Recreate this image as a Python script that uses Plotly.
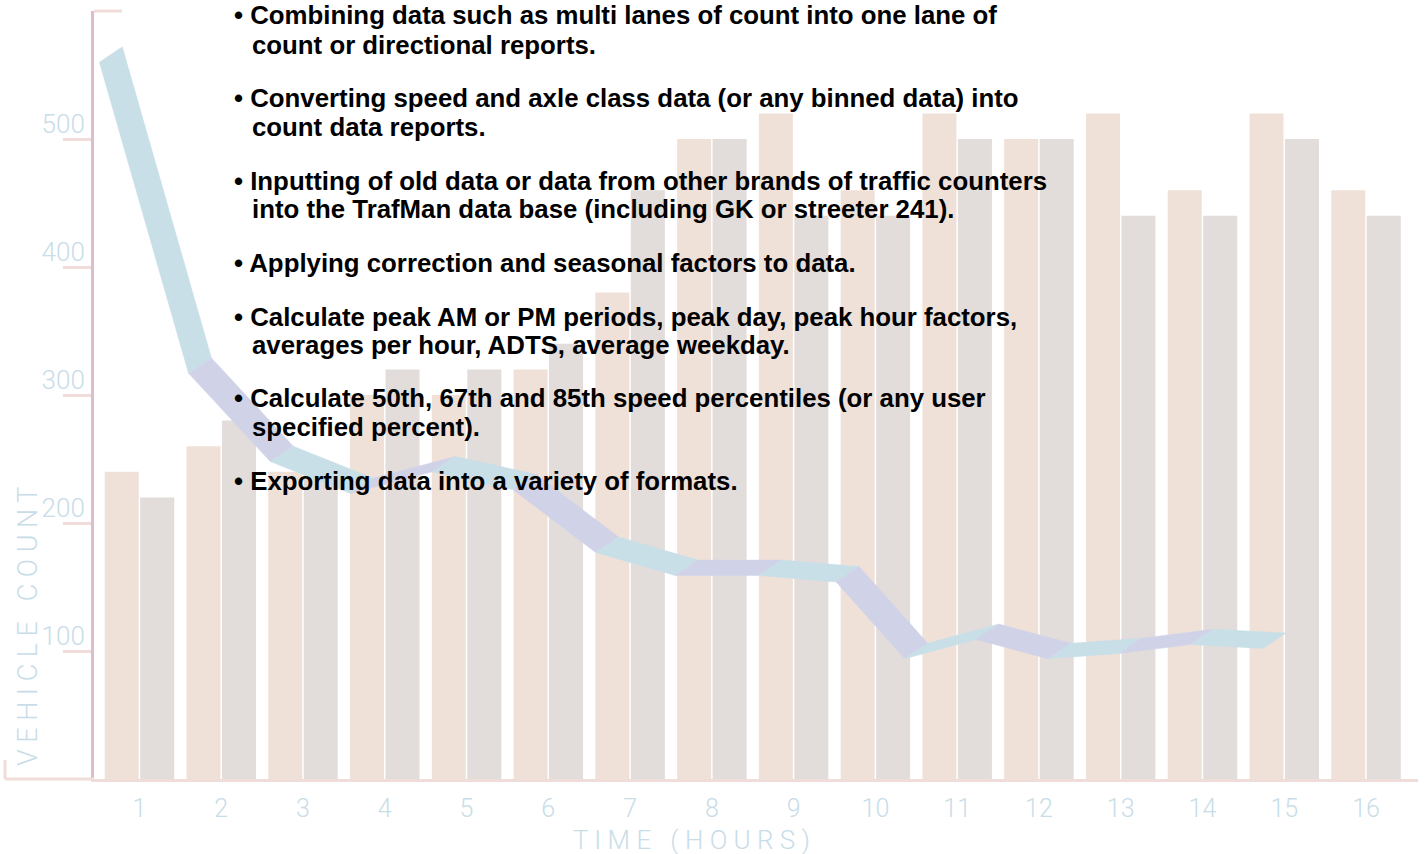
import plotly.graph_objects as go

# ---------------- data ----------------
hours = list(range(1, 17))
hour_labels = [str(h) for h in hours]
series_a = [240, 260, 240, 300, 300, 320, 380, 500, 520, 460, 520, 500, 520, 460, 520, 460]
series_b = [220, 280, 240, 320, 320, 340, 460, 500, 440, 440, 500, 500, 440, 440, 500, 440]

ribbon_time = [0.51, 1.60, 2.60, 3.58, 4.58, 5.57, 6.58, 7.55, 8.57, 9.52,
               10.36, 11.23, 12.11, 12.98, 13.85, 14.74]
ribbon_count = [560, 317, 248, 223, 240, 226, 177, 159, 159, 154,
                94, 109, 94, 98, 105, 102]

y_ticks = [100, 200, 300, 400, 500]
y_tick_labels = ["100", "200", "300", "400", "500"]

bullet_lines = [
    ("• Combining data such as multi lanes of count into one lane of", False),
    ("count or directional reports.", True),
    ("• Converting speed and axle class data (or any binned data) into", False),
    ("count data reports.", True),
    ("• Inputting of old data or data from other brands of traffic counters", False),
    ("into the TrafMan data base (including GK or streeter 241).", True),
    ("• Applying correction and seasonal factors to data.", False),
    ("• Calculate peak AM or PM periods, peak day, peak hour factors,", False),
    ("averages per hour, ADTS, average weekday.", True),
    ("• Calculate 50th, 67th and 85th speed percentiles (or any user", False),
    ("specified percent).", True),
    ("• Exporting data into a variety of formats.", False),
]
bullet_rows = [15, 45, 98, 127, 181, 209, 263, 317, 345, 398, 427, 481]

# ---------------- style ----------------
W, H = 1426, 854
ML, MR, MT, MB = 94, 8, 11, 75
PW, PH = W - ML - MR, H - MT - MB
PEACH = "#efe1d8"
GREY = "#e2dcda"
RIB_COLORS = ["#c8dfe8", "#d0d2e8"]
AXIS_BLUE = "#c8dde8"
YLINE = "#e0bcc8"
XLINE = "#f0dcd8"
DEPTH_X = 0.28
DEPTH_Y = 12

fig = go.Figure()
fig.add_trace(go.Bar(x=hours, y=series_a, marker=dict(color=PEACH, line_width=0),
                     showlegend=False, hoverinfo="skip"))
fig.add_trace(go.Bar(x=hours, y=series_b, marker=dict(color=GREY, line_width=0),
                     showlegend=False, hoverinfo="skip"))

for i in range(len(ribbon_time) - 1):
    x0, x1 = ribbon_time[i], ribbon_time[i + 1]
    y0, y1 = ribbon_count[i], ribbon_count[i + 1]
    fig.add_trace(go.Scatter(
        x=[x0, x1, x1 + DEPTH_X, x0 + DEPTH_X, x0],
        y=[y0, y1, y1 + DEPTH_Y, y0 + DEPTH_Y, y0],
        mode="lines", line=dict(width=0.5, color=RIB_COLORS[i % 2]),
        fill="toself", fillcolor=RIB_COLORS[i % 2],
        showlegend=False, hoverinfo="skip"))

def px_x(p):
    return (p - ML) / PW

def px_y(p):
    return (MT + PH - p) / PH

annotations = []
for (txt, cont), row in zip(bullet_lines, bullet_rows):
    annotations.append(dict(
        text="<b>" + txt + "</b>", xref="paper", yref="paper",
        x=px_x(250 if cont else 232), y=px_y(row), xanchor="left", yanchor="middle",
        showarrow=False, font=dict(family="Liberation Sans, Arial", size=25.8, color="black")))

annotations.append(dict(
    text="V E H I C L E   C O U N T", xref="paper", yref="paper",
    x=px_x(28), y=px_y(627), xanchor="center", yanchor="middle", textangle=-90,
    showarrow=False, font=dict(family="Roboto", size=27, color=AXIS_BLUE, weight=300)))
annotations.append(dict(
    text="T I M E   ( H O U R S )", xref="paper", yref="paper",
    x=px_x(691), y=px_y(840), xanchor="center", yanchor="middle",
    showarrow=False, font=dict(family="Roboto", size=26, color=AXIS_BLUE, weight=300)))

shapes = [
    # x axis extension with bracket tick
    dict(type="line", xref="paper", yref="paper", x0=px_x(5), x1=0, y0=0, y1=0,
         line=dict(color=XLINE, width=3)),
    dict(type="line", xref="paper", yref="paper", x0=px_x(5), x1=px_x(5), y0=0, y1=px_y(760),
         line=dict(color=XLINE, width=3)),
    # top cap of the y axis
    dict(type="line", xref="paper", yref="paper", x0=0, x1=px_x(122), y0=1, y1=1,
         line=dict(color=XLINE, width=3)),
]

fig.update_layout(
    width=W, height=H,
    margin=dict(l=ML, r=MR, t=MT, b=MB),
    paper_bgcolor="white", plot_bgcolor="white",
    barmode="group", bargap=0.132, bargroupgap=0.042,
    annotations=annotations, shapes=shapes,
    xaxis=dict(range=[0.444, 0.444 + PW / 81.77], tickmode="array", tickvals=hours,
               ticktext=hour_labels, showgrid=False, zeroline=False,
               showline=True, linecolor=XLINE, linewidth=3, ticks="",
               ticklabelstandoff=5,
               tickfont=dict(family="Roboto", size=25, color=AXIS_BLUE, weight=300)),
    yaxis=dict(range=[0, 600], tickmode="array", tickvals=y_ticks, ticktext=y_tick_labels,
               showgrid=False, zeroline=False, showline=True, linecolor=YLINE, linewidth=3,
               ticks="outside", ticklen=28, tickwidth=3, tickcolor=XLINE,
               ticklabelstandoff=-27, ticklabelshift=-15,
               tickfont=dict(family="Roboto", size=26, color=AXIS_BLUE, weight=300)),
)

fig.write_html("out.html", config={"displayModeBar": False},
               post_script="document.body.style.margin='0';")
